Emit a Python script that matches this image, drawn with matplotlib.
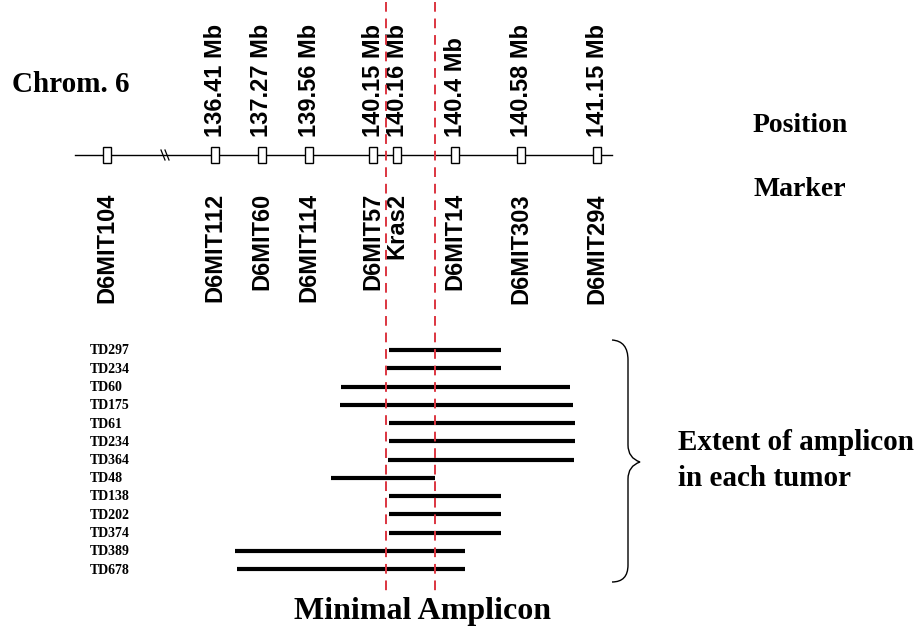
import matplotlib
matplotlib.use('Agg')
import matplotlib.pyplot as plt
from matplotlib.patches import Rectangle, PathPatch
from matplotlib.path import Path

# marcadores del cromosoma 6 (coordenada en el mapa)
markers = ['D6MIT104', 'D6MIT112', 'D6MIT60', 'D6MIT114', 'D6MIT57',
           'Kras2', 'D6MIT14', 'D6MIT303', 'D6MIT294']
marker_pos = [107, 215, 262, 309, 373, 397, 455, 521, 597]
position_lbl = ['', '136.41 Mb', '137.27 Mb', '139.56 Mb', '140.15 Mb',
                '140.16 Mb', '140.4 Mb', '140.58 Mb', '141.15 Mb']

# extension del amplicon en cada tumor
tumors = ['TD297', 'TD234', 'TD60', 'TD175', 'TD61', 'TD234', 'TD364',
          'TD48', 'TD138', 'TD202', 'TD374', 'TD389', 'TD678']
amp_start = [389, 387, 341, 340, 389, 389, 388, 331, 389, 389, 389, 235, 237]
amp_end = [501, 501, 570, 573, 575, 575, 574, 435, 501, 501, 501, 465, 465]

# limites del amplicon minimo
minimal = [386, 435]

serif = 'Liberation Serif'
sans = 'Liberation Sans'

fig = plt.figure(figsize=(9.19, 6.28), dpi=100)
ax = fig.add_axes([0, 0, 1, 1])
ax.set_xlim(0, 919)
ax.set_ylim(628, 0)
ax.axis('off')

chrom_y = 155
ax.plot([75, 612], [chrom_y, chrom_y], color='black', lw=1)
# marca de corte
for dx in (-2, 2):
    ax.plot([165 + dx - 2, 165 + dx + 2], [chrom_y - 5, chrom_y + 5], color='black', lw=0.9)

for name, x, pos in zip(markers, marker_pos, position_lbl):
    ax.add_patch(Rectangle((x - 4, chrom_y - 8), 8, 16, facecolor='white',
                           edgecolor='black', lw=1, zorder=3))
    ax.text(x, 193, name, rotation=90, ha='center', va='top',
            fontsize=17, fontweight='bold', family=sans)
    if pos:
        ax.text(x, 137, pos, rotation=90, ha='center', va='bottom',
                fontsize=17, fontweight='bold', family=sans)

row0, step = 350, 18.25
for i, (t, s, e) in enumerate(zip(tumors, amp_start, amp_end)):
    y = row0 + i * step
    ax.plot([s, e], [y, y], color='black', lw=3, solid_capstyle='butt')
    ax.text(90, y + 1, t, ha='left', va='center', fontsize=10,
            fontweight='bold', family=serif)

for x in minimal:
    ax.plot([x, x], [2, 592], color='#dc3540', lw=1.4, ls=(0, (5, 3.5)), zorder=4)

# llave
verts = [(612, 340), (628, 341), (628, 360),
         (628, 445), (628, 458), (640, 462),
         (628, 466), (628, 479), (628, 565),
         (628, 582), (612, 582)]
codes = [Path.MOVETO, Path.CURVE3, Path.CURVE3,
         Path.LINETO, Path.CURVE3, Path.CURVE3,
         Path.CURVE3, Path.CURVE3, Path.LINETO,
         Path.CURVE3, Path.CURVE3]
ax.add_patch(PathPatch(Path(verts, codes), facecolor='none', edgecolor='black', lw=1))

ax.text(12, 85, 'Chrom. 6', ha='left', va='center', fontsize=21,
        fontweight='bold', family=serif)
ax.text(753, 125, 'Position', ha='left', va='center', fontsize=20,
        fontweight='bold', family=serif)
ax.text(753, 190, 'Marker', ha='left', va='center', fontsize=20,
        fontweight='bold', family=serif)
ax.text(678, 443, 'Extent of amplicon', ha='left', va='center', fontsize=21,
        fontweight='bold', family=serif)
ax.text(678, 478, 'in each tumor', ha='left', va='center', fontsize=21,
        fontweight='bold', family=serif)
ax.text(422, 612, 'Minimal Amplicon', ha='center', va='center', fontsize=23,
        fontweight='bold', family=serif)

fig.savefig('out.png', dpi=100)
